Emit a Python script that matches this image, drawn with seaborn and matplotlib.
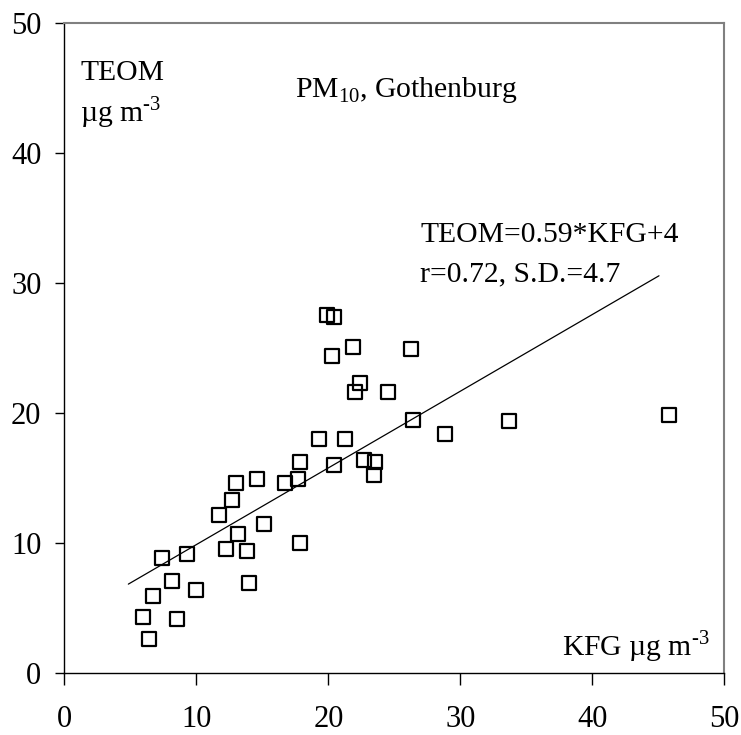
import matplotlib
matplotlib.use("Agg")
import matplotlib.pyplot as plt
import numpy as np
import pandas as pd
import seaborn as sns

# PM10 daily means: KFG (x) vs TEOM (y), µg m-3
kfg = [5.98, 6.42, 6.70, 8.14, 8.56, 7.40, 9.27, 9.98, 11.70, 12.70,
       12.98, 14.58, 13.14, 12.27, 13.84, 13.99, 15.13, 16.70, 17.73, 17.86,
       17.83, 19.32, 19.88, 20.43, 21.85, 20.28, 26.27, 22.40, 22.00, 24.55,
       26.39, 21.29, 28.86, 20.43, 22.70, 23.56, 23.44, 33.71, 45.83]
teom = [4.35, 2.64, 5.95, 7.12, 4.20, 8.87, 9.15, 6.41, 12.20, 13.35,
        14.66, 14.95, 10.74, 9.58, 9.43, 6.97, 11.48, 14.64, 14.95, 16.25,
        10.02, 18.02, 27.56, 27.41, 25.10, 24.38, 24.95, 22.35, 21.64, 21.64,
        19.46, 18.00, 18.43, 16.00, 16.41, 16.25, 15.25, 19.43, 19.89]

# regression line TEOM = 0.59*KFG + 4 over the fitted range
slope, intercept = 0.59, 4.0
fit_range = [4.85, 45.05]

x_ticks = [0, 10, 20, 30, 40, 50]
y_ticks = [0, 10, 20, 30, 40, 50]

sns.set_theme(style="white")
plt.rcParams["font.family"] = ["Liberation Serif", "DejaVu Serif"]
plt.rcParams["mathtext.fontset"] = "custom"
plt.rcParams["mathtext.rm"] = "Liberation Serif"
plt.rcParams["text.color"] = "black"
plt.rcParams["xtick.color"] = "black"
plt.rcParams["ytick.color"] = "black"

df = pd.DataFrame({"KFG": kfg, "TEOM": teom})
fit = pd.DataFrame({"KFG": fit_range,
                    "TEOM": [slope * v + intercept for v in fit_range]})

fig = plt.figure(figsize=(7.41, 7.35), dpi=100)
ax = fig.add_axes([0.0868, 0.0839, 0.8907, 0.8844])

sns.lineplot(data=fit, x="KFG", y="TEOM", ax=ax, color="black", lw=0.9)
sns.scatterplot(data=df, x="KFG", y="TEOM", ax=ax, marker="s", s=100,
                facecolor="none", edgecolor="black", linewidth=1.6, zorder=3)

ax.set_xlim(0, 50)
ax.set_ylim(0, 50)
ax.set_xticks(x_ticks)
ax.set_yticks(y_ticks)
ax.set_xlabel("")
ax.set_ylabel("")

ax.tick_params(axis="x", direction="out", length=8.5, width=1, color="black",
               labelcolor="black", pad=14, labelsize=22, bottom=True)
ax.tick_params(axis="y", direction="out", length=6.5, width=1, color="black",
               labelcolor="black", pad=10, labelsize=22, left=True)

for side in ("left", "bottom"):
    ax.spines[side].set_color("black")
    ax.spines[side].set_linewidth(1.0)
for side in ("top", "right"):
    ax.spines[side].set_color("#808080")
    ax.spines[side].set_linewidth(1.5)

fs = 21.3
# superscript "-3" with a hyphen rather than a math minus
sup = "$^{\\mathrm{\u20103}}$"
ax.text(0.024, 0.913, "TEOM", transform=ax.transAxes, fontsize=fs)
ax.text(0.024, 0.848, "µg m" + sup, transform=ax.transAxes, fontsize=fs)
ax.text(0.3495, 0.8866, r"PM$_{\mathrm{10}}$, Gothenburg", transform=ax.transAxes,
        fontsize=fs)
ax.text(0.539, 0.664, "TEOM=0.59*KFG+4", transform=ax.transAxes, fontsize=fs)
ax.text(0.539, 0.6025, "r=0.72, S.D.=4.7", transform=ax.transAxes, fontsize=fs)
ax.text(0.7536, 0.0255, "KFG µg m" + sup, transform=ax.transAxes, fontsize=fs)

fig.savefig("out.png", dpi=100)
